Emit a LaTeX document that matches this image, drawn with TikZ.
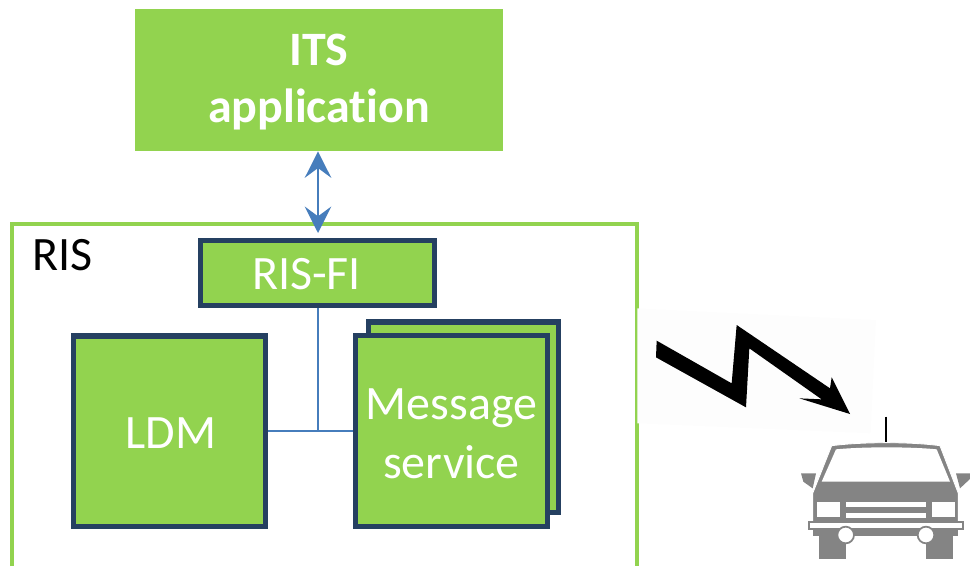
\documentclass[tikz,border=0pt]{standalone}
\usepackage{fontspec}
\setmainfont[Ligatures=NoCommon]{Carlito}
\usetikzlibrary{calc}
\usetikzlibrary{positioning}
\usetikzlibrary{arrows.meta}
\definecolor{mygreen}{RGB}{146,211,79}
\definecolor{mynavy}{RGB}{37,64,97}
\definecolor{myblue}{RGB}{70,125,188}
\definecolor{mygray}{RGB}{132,132,132}
\newcommand{\dn}[2]{\raisebox{-#1pt}[\height][\depth]{#2}}

\begin{document}
\begin{tikzpicture}[%
  x=0.02cm, y=-0.02cm,
  >={Stealth[length=15pt,width=15pt,inset=5.5pt]},
  every node/.style={font=\fontsize{27.3}{33}\selectfont, inner sep=0pt, align=center},
  block/.style={draw=mynavy, line width=3.1pt, fill=mygreen, text=white},
  head/.style={fill=mygreen, text=white, font=\fontsize{27.3}{33}\selectfont\bfseries},
  link/.style={myblue, line width=0.85pt},
  carwhite/.style={fill=white, draw=none},
]

  \useasboundingbox (0,0) rectangle (970,566);

  % RIS frame runs off the bottom
  \draw[mygreen, line width=2.3pt] (12,566) -- (12,224) -- (637,224) -- (637,566);
  \node[anchor=west] (ris) at (32,255) {RIS};

  % blocks
  \node[head, minimum width=7.36cm, minimum height=2.84cm] (its) at (319,80) {\dn{1.1}{ITS}\\[-0.5pt]\dn{1.1}{application}};
  \node[block, minimum width=4.68cm, minimum height=1.29cm] (fi) at (317.5,273) {\dn{0.8}{RIS-FI}\hspace*{12.4pt}};
  \node[block, minimum width=3.85cm, minimum height=3.81cm] (ldm) at (169.5,431) {\hspace*{1.7pt}\dn{1.1}{LDM}};
  \node[block, minimum width=3.81cm, minimum height=3.81cm] (back) at (463.5,417) {};
  \node[block, minimum width=3.85cm, minimum height=3.83cm] (msg) at (451.5,431) {\dn{1.7}{Message}\\[0.9pt]\dn{1.7}{service}};

  \coordinate (top) at (318,233);
  \coordinate (fork) at (318,431);

  \draw[<->, myblue, line width=1.7pt] (its.south -| top) -- (top);
  \draw[link] (fi.south -| fork) -- (fork);
  \draw[link] (ldm.east) -- (msg.west);

  % zigzag on its pale patch
  \begin{scope}[shift={(630,300)}, scale=1/3]
    \fill[black!0.8] (22,25) -- (738,60) -- (722,400) -- (22,370) -- cycle;
    \fill[black] (80,122) -- (305,250) -- (320,75) -- (600,265) -- (605,232)
      -- (660,342) -- (508,295) -- (575,298) -- (358,145) -- (348,322) -- (78,172) -- cycle;

    % car
    \draw[black, line width=1.2pt] (768,350) -- (768,425);
    \fill[mygray] (513,520) -- (558,520) -- (548,565) -- (520,545) -- cycle;
    \fill[mygray] (978,520) -- (1022,520) -- (1022,535) -- (990,565) -- cycle;
    \draw[white, fill=mygray, line width=0.5pt] (605,437) .. controls (700,425) and (840,425) .. (930,437)
      -- (985,580) -- (985,665) -- (548,665) -- (548,580) -- cycle;
    \fill[carwhite] (618,448) .. controls (700,440) and (840,440) .. (920,448)
      -- (960,545) -- (575,545) -- cycle;
    \fill[carwhite] (562,605) rectangle (630,652);
    \fill[carwhite] (905,605) rectangle (975,652);
    \fill[carwhite] (648,605) rectangle (888,622);
    \fill[carwhite] (648,638) rectangle (888,654);
    \fill[mygray] (548,688) rectangle (985,708);
    \fill[mygray] (568,700) rectangle (648,778);
    \fill[mygray] (888,700) rectangle (968,778);
    \draw[mygray, fill=white, line width=1pt] (537,665) rectangle (998,688);
    \draw[mygray, fill=white, line width=1pt] (647,705) circle (25);
    \draw[mygray, fill=white, line width=1pt] (888,705) circle (25);
  \end{scope}

\end{tikzpicture}
\end{document}
